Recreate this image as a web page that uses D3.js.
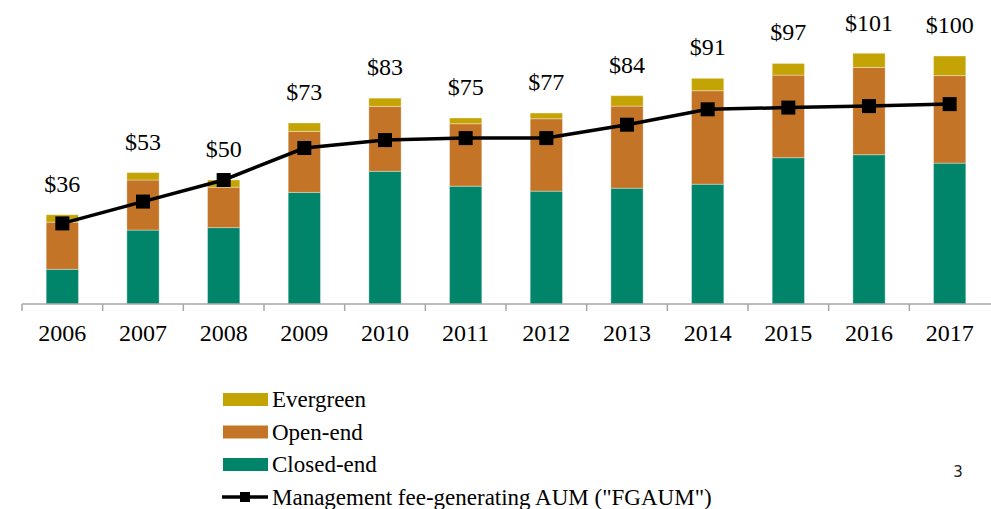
<!DOCTYPE html>
<html>
<head>
<meta charset="utf-8">
<script src="https://cdn.jsdelivr.net/npm/d3@7"></script>
<style>
body{margin:0;background:#fff;}
text{font-family:"Liberation Serif","Times New Roman",serif;}
</style>
</head>
<body>
<script>
// DATA
var years=["2006","2007","2008","2009","2010","2011","2012","2013","2014","2015","2016","2017"];
var closedEnd=[14,29.8,30.8,45,53.5,47.5,45.5,46.7,48.3,59,60.2,56.8];
var openEnd=[19,20.2,16.3,24.6,26.2,25.2,29.2,33.1,37.7,33.3,35.2,35.3];
var evergreen=[3,3,2.9,3.4,3.3,2.3,2.3,4.2,5,4.7,5.7,7.9];
var totals=[36,53,50,73,83,75,77,84,91,97,101,100];
var fgaum=[32.5,41.3,50,62.9,66.1,66.9,66.9,72.3,78.5,79.2,79.8,80.6];

var seriesNames=["Closed-end","Open-end","Evergreen"];
var colors={"Closed-end":"#00846a","Open-end":"#c47427","Evergreen":"#c4a404"};

//CANVAS
var width=991,height=509;
var svg=d3.select("body").append("svg")
  .attr("width",width).attr("height",height);

var x=d3.scaleBand().domain(years).range([22,990]).paddingInner(0.6).paddingOuter(0.3);
var y=d3.scaleLinear().domain([0,110]).range([304,304-110*2.48]);

// stacked table
var rows=years.map(function(yr,i){
  return {year:yr,"Closed-end":closedEnd[i],"Open-end":openEnd[i],"Evergreen":evergreen[i]};
});
var stacked=d3.stack().keys(seriesNames)(rows);

svg.append("g").selectAll("g")
  .data(stacked).enter().append("g")
  .attr("fill",function(d){return colors[d.key]})
  .selectAll("rect")
  .data(function(d){return d})
  .enter().append("rect")
  .attr("x",function(d){return x(d.data.year)})
  .attr("y",function(d){return y(d[1])})
  .attr("width",x.bandwidth())
  .attr("height",function(d){return y(d[0])-y(d[1])})
  .attr("stroke","#ffffff")
  .attr("stroke-opacity",0.35)
  .attr("stroke-width",1);

// x axis, ticks between the bars
var band=d3.scaleBand().domain(years).range([22,990]);
var axis=svg.append("g")
  .attr("transform","translate(0,304)");
axis.append("line")
  .attr("x1",22).attr("x2",991)
  .attr("stroke","#a6a6a6").attr("stroke-width",1.5);
axis.selectAll(".tk")
  .data(years).enter().append("line")
  .attr("x1",function(d){return band(d)}).attr("x2",function(d){return band(d)})
  .attr("y1",0).attr("y2",7)
  .attr("stroke","#a6a6a6").attr("stroke-width",1.5);
axis.selectAll(".yl")
  .data(years).enter().append("text")
  .attr("x",function(d){return band(d)+band.bandwidth()/2})
  .attr("y",37)
  .attr("text-anchor","middle")
  .attr("font-size",24)
  .attr("fill","#000")
  .text(function(d){return d});

// total labels
svg.selectAll(".tot")
  .data(totals).enter().append("text")
  .attr("x",function(d,i){return x(years[i])+x.bandwidth()/2})
  .attr("y",function(d){return y(d)-23})
  .attr("text-anchor","middle")
  .attr("font-size",24)
  .attr("fill","#000")
  .text(function(d){return "$"+d});

// FGAUM line
var line=d3.line()
  .x(function(d,i){return x(years[i])+x.bandwidth()/2})
  .y(function(d){return y(d)});
svg.append("path")
  .datum(fgaum)
  .attr("d",line)
  .attr("fill","none")
  .attr("stroke","#000")
  .attr("stroke-width",3.5);
svg.selectAll(".mk")
  .data(fgaum).enter().append("rect")
  .attr("x",function(d,i){return x(years[i])+x.bandwidth()/2-7})
  .attr("y",function(d){return y(d)-7})
  .attr("width",14).attr("height",14)
  .attr("fill","#000");

// legend
var legendItems=["Evergreen","Open-end","Closed-end"];
var lg=svg.append("g");
lg.selectAll("rect")
  .data(legendItems).enter().append("rect")
  .attr("x",223).attr("y",function(d,i){return 393+i*32.5})
  .attr("width",45).attr("height",13)
  .attr("fill",function(d){return colors[d]});
lg.selectAll("text")
  .data(legendItems.concat(['Management fee-generating AUM ("FGAUM")'])).enter().append("text")
  .attr("x",272).attr("y",function(d,i){return 407+i*32.5})
  .attr("font-size",23)
  .attr("fill","#000")
  .text(function(d){return d});
lg.append("line")
  .attr("x1",222).attr("x2",268)
  .attr("y1",497).attr("y2",497)
  .attr("stroke","#000").attr("stroke-width",3.5);
lg.append("rect")
  .attr("x",240).attr("y",492).attr("width",10).attr("height",10)
  .attr("fill","#000");

// page number
svg.append("text")
  .attr("x",958).attr("y",477)
  .attr("text-anchor","middle")
  .style("font-family","'DejaVu Sans',sans-serif")
  .attr("font-size",15)
  .attr("fill","#222")
  .text("3");
</script>
</body>
</html>
